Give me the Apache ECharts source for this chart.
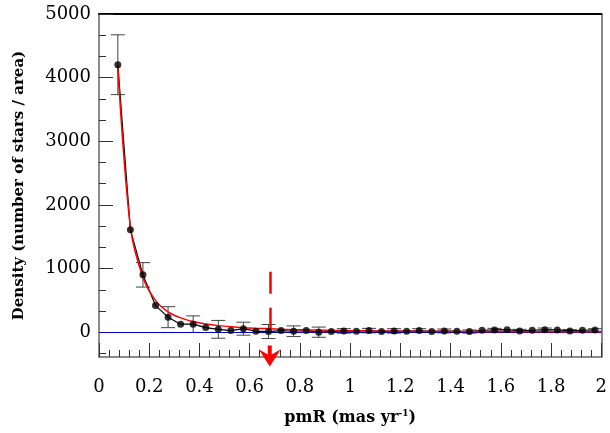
<!DOCTYPE html>
<html><head><meta charset="utf-8">
<script src="https://cdn.jsdelivr.net/npm/echarts@6/dist/echarts.min.js"></script>
<style>html,body{margin:0;padding:0;background:#fff}#c{width:610px;height:433px}</style>
</head><body><div id="c"></div>
<script>
// ---- data ----
const xValues = [0.075,0.125,0.175,0.225,0.275,0.325,0.375,0.425,0.475,0.525,0.575,0.625,0.675,0.725,0.775,0.825,0.875,0.925,0.975,1.025,1.075,1.125,1.175,1.225,1.275,1.325,1.375,1.425,1.475,1.525,1.575,1.625,1.675,1.725,1.775,1.825,1.875,1.925,1.975];
const density = [4203,1608,901,418,236,126,126,72,45,25,55,16,10,25,15,25,0,10,20,15,25,10,20,15,25,10,20,15,10,30,35,40,20,30,40,35,20,30,35];
const densityErr = [470,null,192,null,165,null,130,null,140,null,102,null,110,null,84,null,80,null,35,null,35,null,35,null,30,null,30,null,25,null,25,null,25,null,25,null,20,null,20];
const fitX = [0.075,0.125,0.175,0.225,0.275,0.325,0.375,0.425,0.475,0.525,0.575,0.625,0.675,0.725,0.775,0.825,0.875,0.925,0.975,1.025,1.075,1.125,1.175,1.225,1.275,1.325,1.375,1.425,1.475,1.525,1.575,1.625,1.675,1.725,1.775,1.825,1.875,1.925,1.975,2.0];
const fitY = [4150,1650,860,500,320,225,168,130,103,84,70,62,56,46,40,35,31,28,25,23,21,19,17,16,15,14,13,12,11,10,10,9,9,8,8,7,7,7,6,6];
const cutX = 0.68;            // red marker position
const cutTop = 950, cutBottom = 5, arrowY = -375;
const xMajorTicks = [0,0.2,0.4,0.6,0.8,1,1.2,1.4,1.6,1.8,2];
const xMinorTicks = [0.04,0.08,0.12,0.16,0.24,0.28,0.32,0.36,0.44,0.48,0.52,0.56,0.64,0.68,0.72,0.76,0.84,0.88,0.92,0.96,1.04,1.08,1.12,1.16,1.24,1.28,1.32,1.36,1.44,1.48,1.52,1.56,1.64,1.68,1.72,1.76,1.84,1.88,1.92,1.96];
const yMajorTicks = [0,1000,2000,3000,4000,5000];
const yMinorTicks = [-333.3,333.3,666.7,1333.3,1666.7,2333.3,2666.7,3333.3,3666.7,4333.3,4666.7];

const FONT = 'DejaVu Serif';
const pts = xValues.map((x,i)=>[x, density[i]]);
const errPts = xValues.map((x,i)=>[x, density[i], densityErr[i]]).filter(d=>d[2]!=null);
const fitPts = fitX.map((x,i)=>[x, fitY[i]]);

const chart = echarts.init(document.getElementById('c'), null, {renderer:'canvas'});
chart.setOption({
  animation:false,
  backgroundColor:'#fff',
  grid:{left:99, right:8, top:14, bottom:76, containLabel:false},
  xAxis:[{
    type:'value', min:0, max:2, position:'bottom',
    name:'pmR (mas yr{sup|-1})', nameLocation:'middle', nameGap:52,
    nameTextStyle:{fontFamily:FONT, fontWeight:'bold', fontSize:16, color:'#000',
      rich:{sup:{fontFamily:FONT, fontWeight:'bold', fontSize:9, verticalAlign:'top', padding:[0,0,8,0], color:'#000'}}},
    axisLine:{show:true, onZero:false, lineStyle:{color:'#666', width:1.5}},
    axisTick:{show:true, inside:true, length:14, customValues:xMajorTicks, lineStyle:{color:'#333', width:1}},
    axisLabel:{margin:21, customValues:xMajorTicks, fontFamily:FONT, fontSize:18, color:'#000',
      formatter:function(v){return String(v);}},
    splitLine:{show:false}
  },{
    type:'value', min:0, max:2, position:'bottom',
    axisLine:{show:false, onZero:false},
    axisTick:{show:true, inside:true, length:7, customValues:xMinorTicks, lineStyle:{color:'#333', width:1}},
    axisLabel:{show:false}, splitLine:{show:false}
  },{
    type:'value', min:0, max:2, position:'top',
    axisLine:{show:true, onZero:false, lineStyle:{color:'#000', width:2}},
    axisTick:{show:false}, axisLabel:{show:false}, splitLine:{show:false}
  }],
  yAxis:[{
    type:'value', min:-390, max:5000, position:'left',
    name:'Density (number of stars / area)', nameLocation:'middle', nameGap:72, nameRotate:90,
    nameTextStyle:{fontFamily:FONT, fontWeight:'bold', fontSize:15, color:'#000'},
    axisLine:{show:true, onZero:false, lineStyle:{color:'#666', width:1.5}},
    axisTick:{show:true, inside:true, length:14, customValues:yMajorTicks, lineStyle:{color:'#333', width:1}},
    axisLabel:{margin:8, customValues:yMajorTicks, fontFamily:FONT, fontSize:18, color:'#000',
      formatter:function(v){return String(v);}},
    splitLine:{show:false}
  },{
    type:'value', min:-390, max:5000, position:'left',
    axisLine:{show:false, onZero:false},
    axisTick:{show:true, inside:true, length:7, customValues:yMinorTicks, lineStyle:{color:'#333', width:1}},
    axisLabel:{show:false}, splitLine:{show:false}
  },{
    type:'value', min:-390, max:5000, position:'right',
    axisLine:{show:true, onZero:false, lineStyle:{color:'#888', width:2}},
    axisTick:{show:false}, axisLabel:{show:false}, splitLine:{show:false}
  }],
  series:[
    {
      type:'line', data:[], xAxisIndex:0, yAxisIndex:0, silent:true,
      markLine:{silent:true, symbol:'none', label:{show:false},
        lineStyle:{color:'#0000cc', width:1, type:'solid'},
        data:[{yAxis:0}]}
    },
    {
      type:'custom', xAxisIndex:0, yAxisIndex:0, data:errPts, silent:true, z:3,
      renderItem:function(params, api){
        const x = api.value(0), y = api.value(1), e = api.value(2);
        const top = api.coord([x, y+e]), bot = api.coord([x, y-e]);
        const hw = 7;
        const st = {stroke:'#444', lineWidth:1};
        return {type:'group', children:[
          {type:'line', shape:{x1:top[0],y1:top[1],x2:bot[0],y2:bot[1]}, style:st},
          {type:'line', shape:{x1:top[0]-hw,y1:top[1],x2:top[0]+hw,y2:top[1]}, style:st},
          {type:'line', shape:{x1:bot[0]-hw,y1:bot[1],x2:bot[0]+hw,y2:bot[1]}, style:st}
        ]};
      }
    },
    {
      type:'line', xAxisIndex:0, yAxisIndex:0, data:pts, z:4, silent:true,
      showSymbol:false, symbol:'none',
      lineStyle:{color:'#000', width:1.2}
    },
    {
      type:'line', xAxisIndex:0, yAxisIndex:0, data:fitPts, z:5, silent:true,
      showSymbol:false, symbol:'none', smooth:0.3,
      lineStyle:{color:'#ff0000', width:1.5}
    },
    {
      type:'scatter', xAxisIndex:0, yAxisIndex:0, data:pts, z:6, silent:true,
      symbol:'circle', symbolSize:7, itemStyle:{color:'#000'}
    },
    {
      type:'line', data:[], xAxisIndex:0, yAxisIndex:0, silent:true, z:7,
      markLine:{silent:true, symbol:'none', label:{show:false},
        lineStyle:{color:'#ff0000', width:2.5, type:[22,14]},
        data:[[{coord:[cutX, cutTop]},{coord:[cutX, cutBottom]}]]},
      markPoint:{silent:true,
        symbol:'path://M9 0 L13 0 L13 9.5 L22 4 L11 22 L0 4 L9 9.5 Z',
        symbolSize:[22,21], itemStyle:{color:'#ff0000'}, label:{show:false},
        data:[{coord:[cutX, arrowY]}]}
    }
  ]
});
</script></body></html>
